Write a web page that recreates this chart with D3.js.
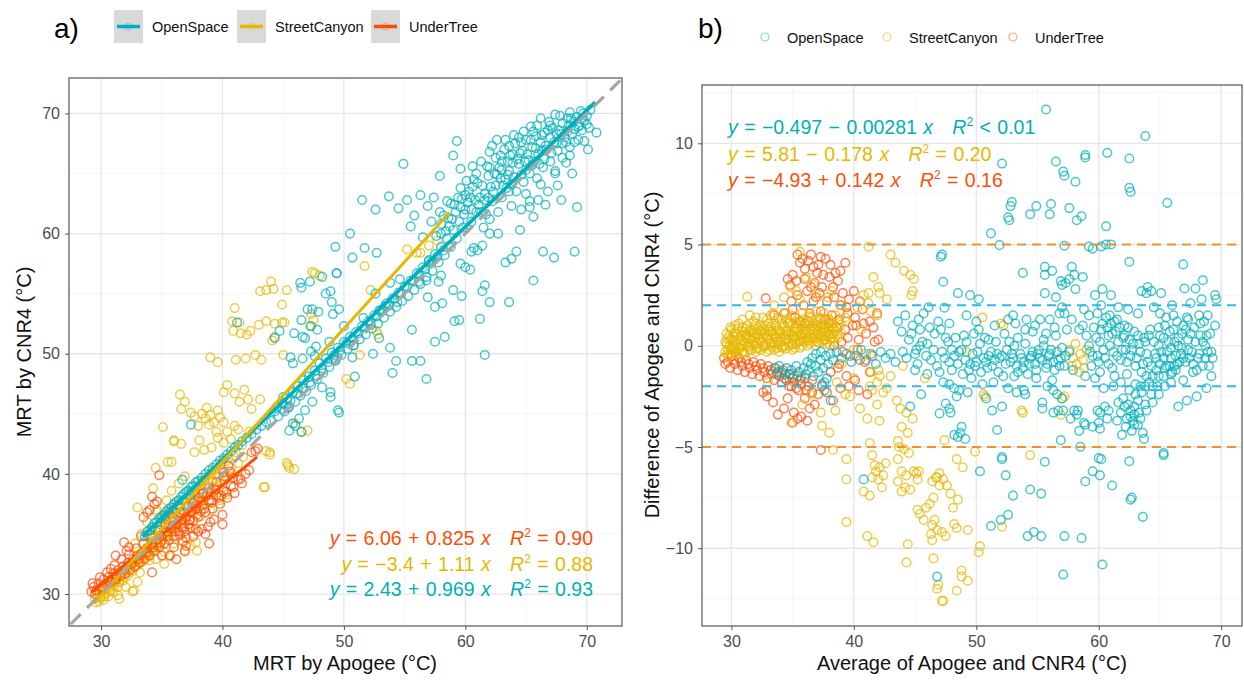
<!DOCTYPE html>
<html>
<head>
<meta charset="utf-8">
<script src="https://cdn.jsdelivr.net/npm/d3@7"></script>
<style>
body { margin: 0; background: #fff; }
text { font-family: "Liberation Sans", Arial, sans-serif; }
</style>
</head>
<body>
<div id="chart"></div>
<script>
// series names and colours
var groups = ["OpenSpace", "StreetCanyon", "UnderTree"];
var colors = ["#00AFBB", "#E7B800", "#FC4E07"];

// panel a tick values
var ticksA = [30, 40, 50, 60, 70];
// panel b tick values
var ticksBx = [30, 40, 50, 60, 70];
var ticksBy = [-10, -5, 0, 5, 10];

// panel a: [MRT by Apogee, MRT by CNR4]
var openA = [[33.6,34.8],[33.8,35.2],[34.0,35.3],[34.2,35.6],[34.4,35.9],[34.6,36.0],[34.8,36.3],[35.0,36.5],[35.2,36.6],[35.4,36.9],[35.6,37.1],[35.8,37.2],[36.0,37.5],[36.2,37.7],[36.4,37.8],[36.6,38.1],[36.8,38.3],[37.0,38.5],[37.2,38.6],[37.4,38.9],[37.6,39.0],[37.8,39.3],[38.0,39.4],[38.3,39.7],[38.6,40.0],[38.9,40.3],[39.2,40.5],[39.5,40.8],[39.8,41.1],[40.1,41.3],[40.4,41.6],[40.7,41.9],[41.0,42.2],[41.3,42.4],[41.6,42.7],[42.0,43.0],[42.4,43.3],[42.8,43.7],[43.2,44.0],[43.6,44.3],
  [34.1,34.9],[34.9,35.8],[35.7,36.6],[36.5,37.3],[37.3,38.2],
  [44.0,44.4],[44.3,45.2],[44.6,44.8],[44.9,45.9],[45.1,45.2],[45.3,46.3],[45.5,45.6],[45.8,46.8],[46.0,46.0],[46.2,47.3],[46.4,46.5],[46.7,47.8],[46.9,46.9],[47.1,48.1],[47.3,47.4],[47.6,48.6],[47.8,47.9],[48.0,49.2],[48.3,48.4],[48.5,49.6],[48.8,48.9],[49.0,50.1],[49.3,49.4],[49.5,50.5],[49.8,49.9],[50.0,51.0],[50.3,50.4],[50.5,51.4],[50.8,50.7],[51.0,51.8],[51.3,51.2],[51.5,52.3],[51.8,51.6],[52.0,52.7],[52.3,52.1],[52.5,53.2],[52.8,52.5],[53.0,53.6],[53.3,53.0],[53.5,54.2],[53.8,53.5],[54.0,54.6],[54.3,53.9],[54.5,55.1],[54.8,54.4],[55.0,55.6],[55.3,54.8],[55.5,56.1],[55.8,55.3],[56.0,56.7],[56.3,55.8],[56.5,57.2],[56.8,56.4],[57.0,57.7],[57.3,56.9],[57.5,58.3],[57.8,57.6],[58.0,58.9],[58.3,58.2],[58.5,59.6],[58.8,58.9],[59.0,60.3],[59.3,59.6],[59.5,61.0],
  [44.5,45.6],[45.0,45.8],[45.6,46.1],[46.1,46.7],[46.6,47.1],[47.2,47.6],[47.7,48.2],[48.2,48.8],[48.7,49.3],[49.2,49.9],[49.7,50.3],[50.2,50.9],[50.7,51.3],[51.2,51.7],[51.7,52.2],[52.2,52.7],[52.7,53.1],[53.2,53.7],[53.7,54.0],[54.2,54.6],[54.7,55.0],[55.2,55.6],[55.7,56.1],[56.2,56.6],[56.7,57.0],[57.2,57.6],[57.7,58.1],[58.2,58.6],
  [48.2,47.2],[48.9,46.4],[49.5,45.3],[47.4,46.0],[46.3,44.6],[45.5,43.6],[45.8,44.2],[46.8,45.3],
  [58.2,61.5],[58.8,62.5],[59.4,63.0],[60.0,62.0],[60.3,63.5],[60.8,62.8],[61.0,64.2],[61.3,61.8],[61.6,63.3],[61.9,64.8],[62.2,62.7],[62.5,64.0],[62.8,65.5],[60.5,61.0],[59.8,60.5],[61.5,60.5],[62.0,61.2],[62.7,61.8],[63.0,63.0],[63.3,64.5],[63.5,66.0],[60.9,65.0],[60.1,64.4],[59.6,63.8],
  [62.0,65.5],[62.5,66.3],[63.0,66.0],[63.2,67.0],[63.6,65.2],[63.9,66.6],[64.1,67.5],[64.4,65.8],[64.7,66.9],[65.0,67.8],[65.2,66.1],[65.5,67.2],[65.8,68.1],[66.0,66.6],[66.2,67.6],[66.5,68.4],[66.7,67.0],[67.0,68.0],[67.2,68.8],[67.5,67.5],[67.7,68.6],[68.0,69.2],[68.2,68.0],[68.5,69.0],[68.7,69.6],[69.0,68.7],[69.2,69.7],[69.5,70.2],[69.8,69.4],[67.8,69.8],[68.6,70.1],[66.9,69.3],[65.9,69.0],[64.8,68.5],[64.0,68.2],[63.3,67.8],[62.2,67.3],
  [60.2,62.6],[60.6,63.9],[61.2,63.0],[61.8,65.6],[62.3,63.5],[62.9,64.6],[63.4,63.8],[63.7,66.5],[64.3,66.2],[64.6,67.6],[65.1,66.6],[65.6,68.5],[65.7,66.0],[66.3,66.9],[66.8,68.6],[67.3,67.6],[67.9,68.3],[68.4,68.5],[68.9,69.3],[69.4,69.0],[69.7,70.0],[70.0,69.8],[70.3,70.3],[69.6,68.6],[68.3,67.6],[67.1,66.7],[66.1,65.8],[65.0,65.3],[64.0,64.7],[63.1,64.0],[61.1,62.4],[62.4,65.0],[60.4,63.0],[59.9,61.6],[59.2,61.8],[58.7,60.6],[58.4,60.2],[59.1,62.4],[61.7,61.6],[63.6,63.5],[65.0,63.3],[66.2,64.1],[67.4,65.0],[68.3,65.9],[69.8,67.7],[70.2,68.8],[66.6,62.4],[65.6,61.4],[67.9,62.8],
  [60.0,63.2],[60.7,64.5],[61.4,64.0],[61.9,63.0],[62.6,64.9],[63.0,65.3],[63.5,64.9],[63.9,65.9],[64.5,66.7],[64.9,66.0],[65.4,67.8],[65.8,67.1],[66.3,68.2],[66.6,67.3],[67.0,69.0],[67.5,68.3],[68.0,67.5],[68.4,69.6],[68.8,68.3],[69.3,68.9],[69.6,69.5],[70.0,69.1],[63.8,64.1],[64.6,64.9],[65.5,65.7],[66.5,66.2],[67.6,66.9],[68.6,66.5],[69.0,67.6],[62.1,63.9],[61.6,62.8],[60.9,61.8],[58.9,61.2],[59.7,62.9],[60.5,62.0],[58.0,60.8],[57.6,59.8],[58.6,61.3],[62.9,66.5],[63.6,67.3],[64.4,68.0],[65.4,68.9],[66.2,69.6],[67.4,69.9],[61.3,66.0],[62.0,66.8],[60.6,65.6],
  [64.2,63.5],[64.8,64.3],[65.3,65.0],[65.9,64.6],[66.4,65.5],[67.0,66.0],[67.4,65.2],[68.0,66.3],[68.6,67.2],[69.3,67.8],[66.0,62.8],[66.8,63.5],[67.6,64.0],[64.6,62.0],[65.3,62.7],[63.8,62.3],[68.8,65.0],
  [70.8,68.4],[70.1,67.0],[69.2,62.2],[69.0,58.5],[67.3,58.0],[66.4,58.5],[65.6,56.1],[63.6,54.3],[61.6,49.9],[61.2,52.9],[59.3,67.7],[62.6,67.8],[59.0,66.5],[54.9,65.8],[57.9,64.8],[59.6,65.4],[51.5,62.8],[52.6,62.0],[53.7,63.1],[54.5,62.1],[50.5,60.0],[49.3,58.9],[51.7,58.8],[52.7,58.4],[50.7,58.0],[49.4,56.7],[48.9,55.2],[49.0,54.3],[49.6,53.7],[47.4,53.7],[47.3,52.3],[46.8,51.3],[57.5,51.0],[58.3,51.4],[55.6,52.0],[59.1,52.7],[59.5,52.8],[54.3,49.4],[55.6,49.4],[56.3,49.4],[54.0,48.4],[56.8,47.9],[58.1,54.2],[57.5,53.9],[56.9,54.7],[59.7,54.8],[61.4,55.2],[61.6,55.7],[62.0,54.3],[63.3,57.6],[64.2,58.5],[63.8,57.9],[64.5,60.3],[65.3,62.2],[62.0,60.0],[62.7,60.0],[60.5,58.5],[61.4,59.0],[61.0,58.6],[60.7,58.8],[59.6,57.5],[60.0,57.2],[60.4,57.0],[58.0,56.5],[57.8,56.0],[59.0,55.3],[56.2,56.0],[56.8,56.1],[57.0,57.8],[54.6,56.2],[53.8,55.9],[52.6,55.0],[53.4,54.0],[52.9,53.6],[54.4,54.3],[51.6,53.0],[52.2,52.4],[50.0,52.3],[50.8,50.7],[49.3,49.5],[48.8,51.0],[52.9,51.3],[53.8,50.5],[52.4,50.0],[56.3,63.2],[57.4,63.0],[58.5,62.7],[59.6,62.2],[55.5,60.6],[56.5,59.7],[55.8,61.5],[57.2,61.0],[58.0,60.0],[56.9,62.3],[55.2,62.8],[57.9,61.8],
  [36.7,39.5],[37.4,44.1],[41.2,52.6],[44.3,51.3],[46.5,55.5],[47.2,56.0],[47.0,53.7],[46.5,52.8],[47.8,52.0],[46.6,51.4],[47.6,49.8],[45.6,49.7],[46.4,55.9],[48.2,56.4],[49.4,56.7],[48.5,55.0],[49.1,53.3],[47.9,53.5],[45.9,51.7],[47.7,50.6],[44.7,51.9],[45.8,49.2],[46.6,49.6],[47.3,50.2],[45.0,46.4],[45.4,45.5],[46.0,44.0],[46.5,43.5],[50.9,48.1],[50.7,49.7],[49.6,45.1],[48.9,46.8]];

var streetA = [[29.5,29.6],[29.7,30.0],[29.9,29.8],[30.1,30.3],[30.3,30.0],[30.5,30.6],[30.7,30.3],[30.9,31.0],[31.1,30.7],[31.3,31.3],[31.5,31.0],[31.7,31.7],[31.9,31.4],[32.1,32.1],[32.3,31.8],[32.5,32.5],[32.7,32.2],[32.9,33.0],[33.1,32.6],[33.3,33.4],[33.5,33.0],[33.7,33.8],[33.9,33.4],[34.1,34.3],[34.3,33.8],[34.5,34.8],[34.7,34.2],[34.9,35.3],[35.1,34.6],[35.3,35.8],[35.5,35.0],[35.7,36.3],[35.9,35.4],[36.1,36.8],[36.3,35.8],[36.5,37.2],[36.7,36.2],[36.9,37.7],[37.1,36.6],[37.3,38.1],[37.5,37.0],[37.7,38.6],[37.9,37.4],[38.1,39.0],[38.3,37.8],[38.5,39.5],[38.7,38.2],[38.9,39.9],[39.1,38.6],[39.3,40.3],[39.6,39.0],[39.9,40.8],[40.2,39.5],[40.5,41.3],[40.8,40.0],[41.1,41.8],
  [29.6,29.3],[30.0,29.7],[30.4,30.4],[30.8,30.6],[31.2,31.0],[31.6,31.4],[32.0,31.9],[32.4,32.3],[32.8,32.7],[33.2,33.2],[33.6,33.5],[34.0,33.9],[34.4,34.4],[34.8,34.7],[35.2,35.1],[35.6,35.5],[36.0,36.0],[36.4,36.3],[36.8,36.8],[37.2,37.2],[37.6,37.7],[38.0,38.1],[38.4,38.5],[38.8,39.0],[39.2,39.4],[39.6,39.8],[40.0,40.2],[31.5,29.6],[33.0,31.0],[34.5,32.9],[39.5,43.5],[38.1,42.8],[39.8,44.7],
  [29.8,29.4],[30.3,29.8],[30.7,30.2],[31.0,30.9],[31.4,30.6],[31.8,31.1],[32.2,31.5],[32.6,31.9],[33.0,32.4],[33.4,32.7],[33.8,33.2],[34.2,33.6],[34.6,34.0],[35.0,34.4],[35.4,34.9],[35.8,35.2],[36.2,35.6],[36.6,36.0],[37.0,36.4],[37.4,36.9],[37.8,37.3],[38.2,37.7],[38.6,38.1],[39.0,38.4],[39.4,38.9],[39.8,39.3],[40.3,39.8],[40.7,40.5],[41.3,40.9],[41.7,41.4],[34.2,35.5],[35.0,36.2],[35.9,37.0],[36.7,37.8],[37.5,38.6],[38.3,39.4],[39.1,40.0],[40.0,41.0],[40.9,41.5],
  [30.2,29.5],[30.6,29.8],[31.0,30.2],[32.6,30.2],[31.4,29.9],[32.0,30.6],[33.2,31.8],[34.0,32.8],[35.2,33.5],[36.0,34.2],[35.6,33.2],[36.8,34.4],[37.5,35.5],[38.2,36.5],[37.9,33.6],[39.0,37.0],[39.8,37.8],[40.4,38.3],[33.8,36.0],[34.6,37.0],[35.4,37.8],[33.3,35.0],[32.8,34.2],[35.8,38.6],[36.4,39.2],[36.9,39.8],
  [43.1,55.2],[43.6,55.3],[44.2,55.4],[44.0,56.0],[45.3,55.3],[51.7,57.3],[44.9,54.1],[41.0,53.8],[40.8,52.7],[41.4,52.6],[43.0,52.4],[43.6,52.7],[44.3,52.5],[45.1,52.6],[41.5,51.7],[42.0,51.6],[42.3,51.9],[40.9,51.9],[39.0,49.7],[39.6,49.3],[41.1,49.5],[41.9,49.6],[42.7,49.9],[43.2,49.5],[44.1,51.1],[44.3,51.4],[45.0,49.9],[40.1,46.8],[40.4,47.4],[41.0,46.7],[41.8,47.0],[42.1,46.2],[41.4,46.0],[42.4,45.4],[43.1,46.2],[38.7,45.5],[39.0,44.9],[39.3,44.3],[38.6,44.6],[39.6,45.3],[38.3,45.0],[36.9,46.0],[37.4,45.1],[36.6,45.4],[37.7,44.8],[35.1,43.9],[36.0,42.8],[36.6,42.5],[35.5,41.0],[37.7,41.8],[38.5,42.0],[39.1,42.2],[40.1,44.3],[40.4,43.5],[40.7,42.9],[41.0,44.0],[41.3,43.7],[40.1,42.6],[39.6,43.0],[41.6,42.4],[42.2,43.5],[43.9,41.8],[43.4,38.9],[45.9,40.4],[47.0,43.6],[46.5,43.5],[46.0,44.2],[47.2,52.3],[47.5,52.8],[44.9,52.6],[48.0,56.5],[47.4,56.8],[52.7,51.9],[50.5,47.5],[50.2,47.9],[43.5,38.9],[45.3,40.9],[45.4,40.7],[43.6,41.9],[43.9,41.6],[47.6,56.7],[52.2,55.3],[55.2,58.7],[56.0,58.4],[56.3,58.4],[57.0,59.0],[57.7,59.4],[58.6,58.9],[47.3,53.3],[52.8,51.6],[51.3,49.9],[34.6,36.8],[32.7,30.3],[35.2,32.5],[36.9,33.5],[37.4,34.0],[37.8,34.3],[45.5,40.5],[34.5,40.5],[33.0,37.2],[34.3,38.8],[36.5,46.6],[35.8,41.0],[36.0,42.7],[38.0,44.0],[38.9,44.1]];

var underA = [[29.2,30.2],[29.4,30.6],[29.6,30.3],[29.8,30.9],[30.0,30.5],[30.2,31.2],[30.4,30.8],[30.6,31.4],[30.8,31.0],[31.0,31.7],[31.2,31.2],[31.4,32.0],[31.6,31.5],[31.8,32.3],[32.0,31.7],[32.2,32.6],[32.4,32.0],[32.6,32.9],[32.8,32.3],[33.0,33.2],[33.2,32.6],[33.4,33.5],[33.6,32.9],[33.8,33.8],[34.0,33.2],[34.2,34.1],[34.4,33.6],[34.6,34.5],[34.8,33.9],[35.0,34.8],[35.2,34.2],[35.4,35.2],[35.6,34.5],[35.8,35.5],[36.0,34.8],[36.2,35.8],[36.4,35.2],[36.6,36.1],[36.8,35.5],[37.0,36.4],[37.2,35.8],[37.4,36.8],[37.6,36.1],[37.8,37.1],[38.0,36.4],[38.3,37.4],[38.6,36.8],[38.9,37.8],[39.2,37.1],[39.5,38.2],[39.8,37.5],[40.1,38.6],[40.4,38.0],[40.7,39.0],[41.0,38.4],[41.3,39.5],[41.6,39.2],[41.9,40.0],[42.2,40.3],
  [29.3,30.9],[29.9,31.4],[30.5,31.8],[31.1,32.4],[31.7,32.9],[32.3,33.3],[32.9,33.8],[33.5,34.2],[34.1,34.7],[34.7,35.3],[35.3,35.8],[35.9,36.4],[36.5,36.8],[37.1,37.3],[37.7,37.8],[38.3,38.3],[38.9,38.8],[39.5,39.3],[40.1,39.8],[35.0,33.2],[36.0,33.9],[37.0,34.7],[38.0,35.2],[39.0,36.0],
  [29.5,30.0],[30.1,30.6],[30.7,31.1],[31.3,31.5],[31.9,32.0],[32.5,32.5],[33.1,32.9],[33.7,33.4],[34.3,33.9],[34.9,34.3],[35.5,34.8],[36.1,35.2],[36.7,35.6],[37.3,36.1],[37.9,36.6],[38.5,37.1],[39.1,37.6],[39.7,38.0],[40.3,38.5],[40.9,38.9],[41.5,39.6],[35.6,36.8],[36.3,37.4],[37.5,37.6],[38.1,38.0],
  [34.2,31.8],[31.9,34.3],[32.1,33.6],[34.8,39.9],[34.2,38.1],[34.6,37.7],[34.4,37.5],[33.5,36.4],[33.8,36.8],[34.0,37.0],[36.9,33.6],[36.7,34.4],[37.0,34.0],[38.6,35.0],[38.8,35.6],[38.3,35.4],[39.3,36.2],[40.0,35.8],[40.0,36.6],[39.1,37.8],[39.9,38.2],[39.4,38.7],[38.4,38.4],[38.2,36.9],[42.7,41.9],[42.9,42.1],[42.4,41.8],[40.9,39.7],[40.1,40.1],[40.6,40.2],[40.5,40.7],[37.3,36.2],[36.9,35.2],[36.5,34.9],[37.8,35.4],[37.6,34.8],[35.9,35.7],[36.4,36.4],[35.3,36.3],[37.3,35.5],[32.3,33.9],[31.2,33.2],[30.8,32.1],[33.3,34.8],[35.7,33.2],[36.2,32.9],[38.9,34.2]];

// panel b: [average, difference]
var openB = [[33.5,-1.1],[33.7,-1.4],[33.9,-1.0],[34.1,-1.3],[34.3,-1.6],[34.5,-1.1],[34.7,-1.4],[34.9,-1.2],[35.1,-1.5],[35.3,-1.0],[35.5,-1.3],[35.7,-1.6],[35.9,-1.1],[36.1,-1.4],[36.3,-1.2],[36.5,-0.9],[36.7,-1.5],[36.9,-1.0],[37.1,-1.3],[37.3,-0.7],[37.5,-1.1],[37.6,-1.8],[37.7,-0.5],[37.9,-0.9],[38.1,-0.4],[38.3,-0.7],[36.6,-0.6],[36.9,-0.4],[37.3,-0.3],[36.2,-0.8],[37.6,-2.2],[37.4,-1.9],[37.8,-1.6],
  [38.6,-0.3],[39.0,-0.6],[39.4,-0.4],[39.8,-0.8],[40.2,-0.5],[40.6,-0.2],[41.0,-0.7],[41.4,-0.4],[41.8,-0.9],[42.2,-0.3],[42.6,-0.6],[43.0,-0.4],[43.4,-0.8],[38.1,-2.7],[40.8,-6.6],[44.6,-3.0],[45.0,-1.2],[46.8,-11.4],
  [43.6,1.2],[43.9,0.7],[44.2,1.5],[44.5,0.3],[44.8,1.0],[45.1,-0.2],[45.4,0.8],[45.7,1.6],[46.0,0.1],[46.3,-0.7],[46.6,0.6],[46.9,1.2],[47.2,-0.3],[45.2,-0.9],[44.0,-0.3],[46.1,1.9],[47.5,0.4],[47.8,-0.8],
  [48.2,-0.5],[48.5,-0.9],[48.8,-0.2],[49.1,-0.7],[49.4,-1.2],[49.7,-0.4],[50.0,-0.8],[50.3,0.1],[50.6,-0.6],[50.9,-1.1],[51.2,-0.3],[51.5,-0.7],[51.8,-1.3],[52.1,-0.5],[52.4,-0.9],[52.7,0.2],[53.0,-0.6],[53.3,-1.0],[53.6,-0.4],[53.9,-0.8],[54.2,-1.4],[54.5,-0.5],[54.8,-0.9],[55.1,-0.2],[55.4,-0.7],[55.7,-1.1],[56.0,-0.4],[56.3,-0.8],[56.6,-0.3],[56.9,-0.6],[57.2,-1.0],[49.0,0.5],[50.2,0.8],[51.0,0.3],[52.3,0.6],[53.4,0.4],[54.6,0.7],[55.5,0.3],[56.5,0.5],[49.6,-1.6],[51.4,-1.8],[53.1,-1.5],[54.9,-1.6],[56.2,-1.7],[57.6,-0.3],[57.9,-1.2],[50.5,-1.9],[52.6,-2.1],[55.8,-2.0],
  [44.3,-0.6],[44.7,0.6],[45.0,-0.4],[45.3,1.3],[45.6,0.2],[45.9,-0.5],[46.2,0.9],[46.5,-0.2],[46.8,-1.0],[47.1,0.8],[47.4,-0.6],[47.7,0.2],[48.0,-1.2],[48.3,0.4],[48.6,-0.3],[48.9,-1.4],[49.2,0.2],[49.5,-0.9],[49.8,0.6],[50.1,-0.3],[50.4,-1.3],[50.7,0.4],[51.0,-0.5],[51.3,-1.0],[51.6,0.2],[51.9,-0.6],[52.2,-1.5],[52.5,-0.2],[52.8,-0.8],[53.1,0.0],[53.4,-1.3],[53.7,-0.6],[54.0,0.1],[54.3,-0.9],[54.6,-0.3],[54.9,-1.2],[55.2,-0.6],[55.5,0.0],[55.8,-0.9],[56.1,-0.2],[56.4,-1.2],[56.7,-0.7],[57.0,-0.1],[57.3,-0.5],[49.9,-1.0],[50.8,-0.8],[51.7,-0.4],[52.9,-0.4],[53.8,-1.1],[54.4,-0.6],[55.0,-0.4],[55.9,-0.5],[56.8,-1.0],[48.0,-0.2],[47.0,-1.3],[46.0,-1.4],[45.4,0.0],[50.0,1.2],[51.5,1.0],[53.0,1.5],[54.0,0.8],[55.2,1.3],[56.8,1.6],[49.2,1.5],[47.8,1.1],
  [59.2,0.0],[59.5,-0.5],[59.8,0.4],[60.0,-0.8],[60.2,0.8],[60.4,-0.2],[60.6,1.4],[60.8,0.5],[61.0,1.1],[61.2,-0.3],[61.4,0.7],[61.6,0.2],[61.8,-0.7],[62.0,0.4],[62.2,-0.2],[62.4,0.9],[62.6,-0.5],[62.8,0.1],[63.0,-1.0],[63.2,0.5],[63.4,-0.3],[63.6,-0.9],[60.9,1.5],[61.5,1.3],[62.1,1.0],[60.1,-1.3],[59.4,-1.0],[61.1,-1.1],[62.3,-1.4],
  [59.0,0.5],[59.3,-0.3],[59.6,0.9],[59.9,-0.5],[60.1,0.2],[60.3,1.1],[60.5,-0.6],[60.7,0.9],[60.9,0.0],[61.1,0.6],[61.3,1.2],[61.5,-0.5],[61.7,0.9],[61.9,-0.2],[62.1,0.5],[62.3,-0.8],[62.5,0.3],[62.7,-0.2],[62.9,0.7],[63.1,-0.6],[63.3,0.1],[63.5,-1.3],[63.7,0.4],[63.9,-0.4],[64.1,0.5],[64.3,-1.0],[64.5,0.2],[64.7,-0.6],[64.9,0.9],[65.1,-0.3],[65.3,0.4],[65.5,-1.0],[65.7,0.2],[65.9,-0.6],[66.1,0.8],[66.3,-1.2],[66.5,0.0],[66.7,-0.4],[66.9,1.0],[67.1,-0.8],[67.3,-0.2],[67.5,0.6],[67.7,-1.3],[67.9,0.2],[68.1,-0.6],[68.3,0.5],[68.5,-1.0],[68.7,0.0],[68.9,-0.3],[69.1,0.6],[69.3,-0.6],[61.3,-1.5],[61.8,-1.8],[62.5,-2.2],[63.0,-2.4],[63.4,-2.0],[63.9,-1.5],[64.4,-2.0],[64.9,-1.5],[65.4,-1.1],[65.9,-1.4],[66.4,-0.9],[66.9,-0.6],[67.4,-0.6],[62.0,-2.6],[62.4,-2.9],[62.9,-3.4],[63.4,-3.6],[63.9,-3.2],[64.4,-2.8],[64.9,-2.4],[65.4,-2.0],[65.9,-1.8],[66.2,-1.0],[61.8,-3.3],[62.2,-4.0],[62.7,-4.2],[63.2,-3.9],[61.5,-3.7],[61.9,-4.4],[60.8,-0.9],[59.7,-1.6],[60.4,-2.1],[58.9,-1.5],[58.4,0.8],[58.7,1.0],[66.0,2.0],[67.5,2.1],[68.4,2.3],[64.5,1.9],[63.2,1.6],[62.4,1.8],[61.6,1.9],[60.2,2.0],
  [62.3,-3.6],[62.6,-3.2],[62.9,-3.0],[63.2,-2.7],[63.5,-2.3],[63.8,-2.0],[64.1,-1.8],[64.4,-1.5],[64.7,-1.2],[65.0,-0.9],[65.3,-0.6],[65.6,-0.3],[65.9,-0.1],[66.2,0.2],[66.5,0.4],[66.8,0.6],[67.1,0.8],[62.8,-3.7],[63.3,-3.3],[63.8,-2.9],[64.3,-2.4],[64.8,-2.0],[65.3,-1.5],[65.8,-1.0],[66.3,-0.5],[66.8,-0.1],[67.3,0.3],[67.7,-0.9],[68.0,-1.2],[68.2,-0.4],[68.5,0.2],
  [63.8,0.2],[64.2,0.8],[64.6,-0.4],[65.0,0.5],[65.4,1.0],[65.8,0.7],[66.0,-1.3],[66.4,1.2],[66.9,-1.7],[67.3,1.3],[67.8,0.9],[68.3,1.1],[68.8,0.5],[69.2,-0.3],[69.0,-1.0],[64.0,-0.8],[64.9,0.0],[66.6,-0.8],[67.6,-0.3],[68.7,-0.6],
  [55.7,11.67],[63.8,10.36],[52.1,9.0],[56.5,9.1],[58.9,9.42],[58.9,9.3],[60.7,9.53],[62.5,9.25],[57.1,8.6],[57.2,8.4],[58.1,8.1],[62.5,7.8],[62.6,7.6],[65.6,7.06],[52.9,7.1],[52.8,6.9],[52.6,6.34],[52.7,6.2],[54.4,6.5],[54.9,6.9],[56.1,7.0],[56.0,6.5],[57.6,6.8],[58.2,6.2],[58.6,6.4],[60.6,5.9],[51.2,5.55],[51.9,4.97],[57.2,4.94],[59.2,4.9],[59.5,4.8],[60.2,4.9],[60.6,5.0],[61.0,5.0],[47.2,4.5],[47.1,4.4],[62.5,4.15],[66.9,4.02],[55.6,3.9],[56.2,3.7],[55.6,3.5],[53.8,3.6],[57.8,3.9],[58.0,3.5],[57.6,3.3],[58.7,3.4],[57.0,3.0],[57.3,3.1],[56.9,3.2],[47.3,3.16],[68.5,3.24],[67.0,2.83],[67.9,2.83],[64.0,2.9],[64.3,2.7],[65.1,2.6],[63.5,2.7],[63.9,2.6],[69.5,2.5],[69.6,2.3],[48.5,2.6],[49.5,2.5],[50.2,2.3],[55.6,2.6],[56.5,2.4],[58.1,2.8],[59.7,2.5],[60.3,2.8],[61.0,2.5],[47.4,1.88],[57.0,1.9],[57.2,1.6],[57.8,1.3],[58.8,1.8],[59.2,1.5],[59.9,1.6],[52.6,1.3],[53.2,1.1],[54.1,1.3],[54.8,1.0],[56.0,1.3],[56.4,0.9],[55.7,0.6],[57.4,0.8],[65.0,1.6],[65.5,1.4],[66.1,1.5],[67.2,1.4],[68.2,1.5],[68.9,1.5],[69.5,1.0],[68.6,1.2],
  [47.0,-3.34],[47.9,-3.3],[47.8,-3.1],[47.5,-2.85],[48.8,-4.0],[48.7,-4.3],[49.1,-4.6],[48.2,-4.4],[48.5,-4.5],[51.7,-4.16],[52.1,-5.5],[52.1,-5.6],[50.3,-6.2],[52.4,-6.4],[53.0,-7.4],[54.4,-7.1],[55.3,-7.3],[52.6,-8.35],[51.2,-8.9],[52.0,-8.6],[54.2,-9.4],[54.7,-9.2],[55.3,-9.4],[57.2,-9.4],[58.6,-9.5],[57.1,-11.3],[60.3,-10.8],[55.6,-5.73],[56.9,-4.66],[58.3,-3.2],[58.2,-3.4],[57.7,-3.6],[58.4,-4.2],[58.5,-4.99],[59.5,-6.2],[58.9,-6.7],[60.0,-5.55],[60.2,-5.6],[60.1,-6.4],[61.1,-6.9],[62.5,-5.7],[62.7,-7.5],[62.6,-7.6],[63.6,-8.45],[65.3,-5.3],[65.3,-5.4],[60.0,-3.8],[60.1,-4.1],[60.7,-3.6],[60.8,-3.2],[60.1,-3.3],[59.9,-3.2],[60.5,-3.0],[61.6,-2.8],[62.1,-3.0],[62.6,-3.5],[62.9,-3.9],[63.6,-4.3],[63.7,-4.6],[66.5,-3.0],[67.2,-2.7],[68.0,-2.5],[68.8,-2.1],[69.2,-1.5],[56.3,-3.3],[56.7,-3.2],[57.1,-3.2],[58.0,-3.2],[58.8,-3.8],[59.5,-4.0],[58.9,-3.9],[54.0,-2.4],[53.3,-2.3],[53.9,-2.2],[55.4,-2.8],[55.4,-3.1],[56.6,-2.4],[57.0,-2.6],[56.3,-2.2],[52.1,-3.0],[51.3,-3.2],[48.6,-2.2],[49.3,-2.3],[48.2,-2.1],[48.4,-2.5],[47.3,-1.8],[47.8,-1.9],[45.5,-2.4],[50.8,-2.6],[61.2,-2.0],[63.0,-1.9]];

var streetB = [[29.5,-0.3],[29.5,0.2],[29.8,-0.5],[29.8,0.0],[29.8,0.5],[30.1,-0.2],[30.1,0.3],[30.4,-0.4],[30.4,0.1],[30.4,0.6],[30.7,-0.1],[30.7,0.4],[31.0,-0.3],[31.0,0.2],[31.0,0.7],[31.3,0.0],[31.3,0.5],[31.6,-0.2],[31.6,0.3],[31.6,0.8],[31.9,0.1],[31.9,0.6],[32.2,-0.1],[32.2,0.4],[32.2,0.9],[32.5,0.2],[32.5,0.7],[32.8,0.0],[32.8,0.5],[33.1,-0.2],[33.1,0.3],[33.1,0.8],[33.4,0.1],[33.4,0.6],[33.7,-0.1],[33.7,0.4],[33.7,0.9],[34.0,0.2],[34.0,0.7],[34.3,0.0],[34.3,0.5],[34.3,1.0],[34.6,0.3],[34.6,0.8],[34.9,0.1],[34.9,0.6],[35.2,-0.1],[35.2,0.4],[35.2,0.9],[35.5,0.2],[35.5,0.7],[35.5,1.2],[35.8,0.0],[35.8,0.5],[35.8,1.0],[36.1,0.3],[36.1,0.8],[36.4,0.1],[36.4,0.6],[36.4,1.1],[36.7,0.4],[36.7,0.9],[37.0,0.2],[37.0,0.7],[37.0,1.2],[37.3,0.5],[37.3,1.0],[37.6,0.3],[37.6,0.8],[37.9,0.6],[37.9,1.1],[38.2,0.4],[38.2,0.9],[38.5,0.7],[30.3,1.0],[30.9,1.3],[31.8,1.2],[32.6,1.4],[29.9,0.9],[33.2,1.5],[34.4,1.6],
  [29.6,0.1],[29.7,-0.2],[29.9,0.3],[30.0,-0.4],[30.2,0.6],[30.2,0.0],[30.3,-0.3],[30.5,0.3],[30.6,-0.1],[30.8,0.5],[30.9,0.0],[30.9,0.9],[31.1,-0.4],[31.2,0.4],[31.4,0.1],[31.5,-0.2],[31.5,0.7],[31.7,0.4],[31.8,0.0],[31.9,0.9],[32.0,-0.3],[32.1,0.6],[32.3,0.2],[32.4,-0.2],[32.4,1.0],[32.6,0.4],[32.7,0.0],[32.7,0.8],[32.9,-0.3],[33.0,0.5],[33.0,1.1],[33.2,0.1],[33.3,0.7],[33.5,-0.2],[33.5,0.4],[33.6,1.0],[33.8,0.2],[33.9,0.6],[33.9,-0.3],[34.1,0.4],[34.1,1.1],[34.2,-0.1],[34.4,0.3],[34.5,0.7],[34.5,1.3],[34.7,0.0],[34.7,0.5],[34.8,1.0],[35.0,0.3],[35.0,-0.2],[35.1,0.7],[35.3,0.1],[35.3,1.1],[35.4,0.5],[35.6,-0.1],[35.7,0.4],[35.7,0.9],[35.9,0.2],[35.9,1.3],[36.0,0.6],[36.2,0.0],[36.2,1.0],[36.3,0.4],[36.5,0.8],[36.5,1.4],[36.6,0.2],[36.8,0.6],[36.8,1.1],[36.9,0.0],[37.1,0.4],[37.1,0.9],[37.2,1.4],[37.4,0.2],[37.4,0.7],[37.5,1.2],[37.7,0.5],[37.7,1.0],[37.8,0.1],[38.0,0.8],[38.0,1.3],[38.1,0.3],[38.3,0.6],[38.3,1.1],[38.4,0.2],[38.6,0.9],[38.7,0.4],[38.8,1.2],[39.0,0.6],[29.6,0.6],[30.0,0.8],[30.6,1.1],[31.3,1.0],[32.0,1.1],[32.9,1.3],[33.8,1.4],[34.9,1.5],[35.8,1.6],[36.9,1.7],[37.6,1.6],[38.5,1.5],[39.3,1.4],
  [29.65,0.35],[29.95,-0.15],[30.25,0.45],[30.55,-0.25],[30.85,0.25],[31.15,0.55],[31.45,-0.05],[31.75,0.65],[32.05,0.15],[32.35,0.75],[32.65,-0.05],[32.95,0.35],[33.25,0.95],[33.55,0.15],[33.85,0.75],[34.15,-0.05],[34.45,0.55],[34.75,1.15],[35.05,0.45],[35.35,0.85],[35.65,0.25],[35.95,0.75],[36.25,1.25],[36.55,0.35],[36.85,0.85],[37.15,0.15],[37.45,1.05],[37.75,0.65],[38.05,0.05],[38.35,0.85],[38.65,0.55],[38.95,1.05],[29.65,-0.45],[30.25,-0.15],[30.85,-0.35],[31.45,0.35],[32.05,-0.15],[32.65,0.55],[33.25,-0.05],[33.85,0.05],[34.45,-0.15],[35.05,0.05],[35.65,0.55],[36.25,0.25],[36.85,0.45],[37.45,0.45],[38.05,0.55],[30.5,0.85],[31.2,0.85],[31.9,0.4],[32.8,1.0],[33.6,0.75],[34.6,1.1],[35.4,1.35],[36.3,1.45],[37.3,1.3],[38.2,1.2],
  [31.3,2.42],[35.6,4.64],[41.2,4.89],[43.0,4.5],[43.4,4.1],[44.1,3.7],[44.6,3.5],[44.9,3.3],[44.8,2.7],[44.7,2.5],[42.7,2.3],[42.1,2.6],[41.2,2.6],[41.2,2.1],[33.5,2.0],[34.3,2.4],[34.8,2.9],[35.3,2.7],[35.6,2.3],[37.0,2.4],[37.9,2.4],[38.2,2.7],[33.4,1.6],[34.1,1.3],[31.5,1.5],[32.0,1.4],[40.3,1.9],[40.8,2.5],[41.6,3.4],[42.0,2.9],[41.4,1.7],[41.9,1.5],[40.6,0.8],[41.0,-0.4],[41.4,-1.3],[41.5,-2.2],[39.4,1.2],[39.0,2.0],[36.1,3.4],[36.7,3.0],
  [37.4,-3.95],[37.3,-3.3],[34.9,-3.8],[38.3,-5.15],[39.4,-5.6],[39.4,-6.6],[39.4,-8.7],[39.7,-2.5],[40.5,-3.1],[41.1,-3.6],[41.9,-2.9],[42.1,-3.7],[41.3,-2.0],[40.8,-7.2],[41.3,-7.4],[41.1,-9.4],[41.6,-9.7],[41.3,-4.8],[41.5,-5.4],[41.7,-5.9],[41.8,-6.2],[42.0,-6.6],[42.4,-6.4],[42.1,-6.0],[42.3,-7.0],[41.5,-6.5],[42.6,-5.8],[41.9,-1.8],[42.1,-1.5],[42.4,-2.3],[42.0,-1.2],[42.7,-2.1],[43.5,-2.7],[43.8,-3.1],[44.3,-3.3],[43.9,-4.0],[44.8,-3.6],[44.4,-4.3],[43.6,-4.7],[43.7,-5.0],[44.1,-5.1],[44.5,-5.3],[43.6,-5.6],[43.9,-6.2],[44.3,-6.4],[43.6,-6.7],[44.2,-7.0],[43.9,-7.2],[44.6,-7.1],[44.9,-6.2],[45.1,-6.3],[45.2,-8.1],[44.4,-9.8],[44.3,-10.7],[46.8,-12.0],[47.2,-12.6],[46.2,-7.8],[45.9,-8.0],[45.4,-8.3],[45.7,-8.6],[46.3,-9.3],[46.4,-9.6],[46.6,-8.6],[46.7,-6.5],[46.4,-6.7],[45.3,-6.2],[45.2,-6.6],[47.4,-4.66],[48.4,-5.6],[48.9,-6.0],[47.0,-6.3],[47.3,-6.6],[47.0,-6.9],[47.6,-6.9],[46.8,-6.5],[46.5,-7.5],[47.9,-7.3],[48.5,-7.6],[48.1,-8.0],[46.4,-8.85],[47.2,-9.2],[47.5,-9.4],[46.8,-9.1],[48.2,-8.8],[48.4,-9.0],[49.3,-9.1],[50.3,-9.9],[50.2,-10.2],[46.5,-10.5],[48.8,-11.1],[49.3,-11.6],[48.4,-12.1],[48.8,-11.4],[46.9,-11.8],[47.3,-12.6],[52.1,-8.94],[49.9,-5.23],[54.4,-5.4],[53.7,-3.2],[53.8,-3.3],[56.9,-3.42],[57.0,-2.6],[57.2,-2.5],[50.6,-2.4],[50.7,-2.5],[57.6,-0.2],[57.9,-0.6],[58.2,-0.9],[58.5,-0.4],[58.8,-1.1],[57.8,-1.0],[58.4,-1.3],[58.1,0.1],[58.7,-0.7],[59.0,-0.2],[50.5,1.4],[52.0,1.1],[52.2,1.0],[38.6,-1.8],[39.3,-2.4],[40.0,-1.6],[39.0,-0.9],[40.0,-0.2],[38.5,-3.2],[38.0,-4.3],[36.5,-2.4],[33.0,-1.8],[35.8,-2.9],[45.8,-1.6],[49.2,-0.3],[44.0,-1.0],[43.0,-1.5]];

var underB = [[29.4,-0.6],[29.7,-0.8],[30.0,-0.5],[30.3,-0.9],[30.6,-0.6],[30.9,-1.0],[31.2,-0.7],[31.5,-1.1],[31.8,-0.8],[32.1,-1.2],[32.4,-0.9],[32.7,-1.3],[33.0,-1.0],[33.3,-1.4],[33.6,-1.1],[33.9,-1.5],[34.2,-1.2],[34.5,-1.7],[34.8,-1.4],[35.1,-1.8],[35.4,-1.5],[35.7,-1.9],[36.0,-1.6],[36.3,-2.0],[36.6,-1.7],
  [29.5,-0.9],[29.9,-1.1],[30.2,-0.7],[30.5,-1.2],[30.8,-0.8],[31.1,-1.3],[31.4,-0.9],[31.7,-1.4],[32.0,-1.0],[32.3,-1.5],[32.6,-1.1],[32.9,-1.6],[33.2,-1.2],[33.5,-1.7],[33.8,-1.3],[34.1,-1.8],[34.4,-1.4],[34.7,-2.0],[35.0,-1.6],[35.3,-2.1],[35.6,-1.7],[36.1,-2.2],
  [35.4,4.5],[35.8,4.3],[36.3,4.2],[36.7,3.9],[37.1,4.0],[35.6,4.1],[34.6,3.3],[35.0,3.5],[34.8,3.0],[35.3,3.2],[36.0,3.3],[36.8,3.1],[36.5,2.9],[37.2,2.6],[37.7,4.3],[38.1,4.0],[38.5,3.6],[37.5,3.5],[38.3,2.9],[32.8,2.34],[33.5,1.5],[34.3,1.6],[35.0,1.8],[35.6,1.2],[36.4,1.6],[37.3,1.7],[38.2,1.5],[38.8,1.3],[39.5,1.6],[40.1,1.4],[40.8,1.1],[41.3,1.2],[39.5,0.4],[40.4,0.3],[41.0,0.6],[41.7,0.2],[38.6,0.9],[39.3,0.8],[39.9,1.0],[38.0,1.1],[37.6,0.3],[38.4,0.0],[39.1,-0.3],[39.7,-0.5],[40.3,-0.2],[40.9,-0.8],[41.5,-0.5],[38.8,-0.9],[39.4,1.9],[40.7,1.8],[41.9,1.6],[36.7,2.2],[37.0,1.0],
  [34.9,2.2],[35.4,2.5],[35.9,2.0],[36.2,2.7],[36.9,2.4],[37.4,2.9],[37.8,2.2],[38.4,2.4],[38.7,3.2],[39.1,2.6],[39.6,2.3],[40.0,2.7],[40.5,2.2],[36.0,3.8],[37.0,3.6],[38.0,3.4],[38.9,3.7],[39.3,4.1],[36.5,4.5],[37.3,4.4],[35.2,1.4],[36.0,1.1],[37.7,1.3],[38.9,2.0],[40.2,1.0],[41.6,0.9],[42.0,0.3],[39.0,0.2],[40.5,-0.7],[41.3,-1.3],
  [32.9,-2.2],[32.9,-2.5],[35.1,-3.3],[35.7,-3.5],[36.2,-3.7],[35.4,-3.6],[34.9,-2.0],[35.5,-2.2],[36.6,-2.3],[36.0,-2.6],[37.1,-2.4],[37.8,-2.3],[38.3,-2.7],[38.9,-2.1],[37.4,-2.0],[37.3,-5.15],[38.7,-1.1],[39.4,-1.5],[40.1,-1.7],[38.1,-1.3],[32.6,-2.3],[33.4,-2.8],[34.3,-3.1],[35.0,-3.8],[33.8,-3.4],[36.4,-3.1],[34.6,-2.6],[39.6,-2.0],[40.4,-2.2],[41.1,-2.4],[36.8,-2.9]];

// fitted lines in panel a: intercept, slope, x range
var fitA = [
  { g: 0, a: 2.43, b: 0.969, x0: 33.4, x1: 70.7, w: 3.6 },
  { g: 2, a: 6.06, b: 0.825, x0: 29.2, x1: 42.85, w: 3 },
  { g: 1, a: -3.4, b: 1.11, x0: 29.4, x1: 58.7, w: 3 }
];
// equation labels
var eqA = [
  { g: 2, a: "6.06", op: "+", b: "0.825", r: "= 0.90" },
  { g: 1, a: "\u22123.4", op: "+", b: "1.11", r: "= 0.88" },
  { g: 0, a: "2.43", op: "+", b: "0.969", r: "= 0.93" }
];
var eqB = [
  { g: 0, a: "\u22120.497", op: "\u2212", b: "0.00281", r: "< 0.01" },
  { g: 1, a: "5.81", op: "\u2212", b: "0.178", r: "= 0.20" },
  { g: 2, a: "\u22124.93", op: "+", b: "0.142", r: "= 0.16" }
];
// limits of agreement lines in panel b
var limitsOuter = [-5, 5];
var limitsInner = [-2, 2];

var W = 1244, H = 680;
var svg = d3.select("#chart").append("svg")
    .attr("width", W).attr("height", H)
    .style("background", "#fff");

var xA = d3.scaleLinear().domain([27.36, 72.9]).range([69, 622]);
var yA = d3.scaleLinear().domain([27.34, 72.95]).range([626, 78]);
var xB = d3.scaleLinear().domain([27.6, 71.7]).range([702, 1242]);
var yB = d3.scaleLinear().domain([-13.84, 12.88]).range([626, 85]);

function grid(g, x, y, xt, yt, xm, ym) {
  var x0 = x.range()[0], x1 = x.range()[1], y0 = y.range()[0], y1 = y.range()[1];
  g.append("rect").attr("x", x0).attr("y", y1).attr("width", x1 - x0).attr("height", y0 - y1).attr("fill", "#fff");
  g.selectAll(".mx").data(xm).enter().append("line")
    .attr("x1", d => x(d)).attr("x2", d => x(d)).attr("y1", y0).attr("y2", y1)
    .attr("stroke", "#F2F2F2").attr("stroke-width", 0.8);
  g.selectAll(".my").data(ym).enter().append("line")
    .attr("y1", d => y(d)).attr("y2", d => y(d)).attr("x1", x0).attr("x2", x1)
    .attr("stroke", "#F2F2F2").attr("stroke-width", 0.8);
  g.selectAll(".gx").data(xt).enter().append("line")
    .attr("x1", d => x(d)).attr("x2", d => x(d)).attr("y1", y0).attr("y2", y1)
    .attr("stroke", "#E6E6E6").attr("stroke-width", 1.3);
  g.selectAll(".gy").data(yt).enter().append("line")
    .attr("y1", d => y(d)).attr("y2", d => y(d)).attr("x1", x0).attr("x2", x1)
    .attr("stroke", "#E6E6E6").attr("stroke-width", 1.3);
}

function axes(g, x, y, xt, yt) {
  var ax = g.append("g").attr("transform", "translate(0," + y.range()[0] + ")")
    .call(d3.axisBottom(x).tickValues(xt).tickSize(4).tickPadding(6));
  var ay = g.append("g").attr("transform", "translate(" + x.range()[0] + ",0)")
    .call(d3.axisLeft(y).tickValues(yt).tickSize(4).tickPadding(5).tickFormat(d3.format("d")));
  [ax, ay].forEach(function (a) {
    a.select(".domain").remove();
    a.selectAll("line").attr("stroke", "#555");
    a.selectAll("text").attr("fill", "#4D4D4D").style("font-size", "16px")
      .style("font-family", "'Liberation Sans', Arial, sans-serif");
  });
}

function border(g, x, y) {
  g.append("rect").attr("x", x.range()[0]).attr("y", y.range()[1])
    .attr("width", x.range()[1] - x.range()[0]).attr("height", y.range()[0] - y.range()[1])
    .attr("fill", "none").attr("stroke", "#555").attr("stroke-width", 1.2);
}

function points(g, data, x, y, color) {
  g.selectAll(null).data(data).enter().append("circle")
    .attr("cx", d => x(d[0])).attr("cy", d => y(d[1])).attr("r", 4.3)
    .attr("fill", "none").attr("stroke", color)
    .attr("stroke-opacity", 0.7).attr("stroke-width", 1.5);
}

function equation(t, e) {
  t.style("word-spacing", "1px");
  t.append("tspan").attr("font-style", "italic").text("y");
  t.append("tspan").text(" = " + e.a + " " + e.op + " " + e.b + " ");
  t.append("tspan").attr("font-style", "italic").text("x");
  t.append("tspan").text("\u00a0\u00a0\u00a0");
  t.append("tspan").attr("font-style", "italic").text("R");
  t.append("tspan").attr("dy", -8).attr("font-size", 12).text("2");
  t.append("tspan").attr("dy", 8).text(" " + e.r);
}

// ---------- panel a ----------
var pa = svg.append("g");
grid(pa, xA, yA, ticksA, ticksA, [35, 45, 55, 65], [35, 45, 55, 65]);
pa.append("defs").append("clipPath").attr("id", "clipA").append("rect")
  .attr("x", 69).attr("y", 78).attr("width", 553).attr("height", 548);
var pta = pa.append("g").attr("clip-path", "url(#clipA)");
points(pta, streetA, xA, yA, colors[1]);
points(pta, underA, xA, yA, colors[2]);
points(pta, openA, xA, yA, colors[0]);

fitA.forEach(function (f) {
  pta.append("line")
    .attr("x1", xA(f.x0)).attr("y1", yA(f.a + f.b * f.x0))
    .attr("x2", xA(f.x1)).attr("y2", yA(f.a + f.b * f.x1))
    .attr("stroke", colors[f.g]).attr("stroke-width", f.w);
});
// 1:1 line
pta.append("line")
  .attr("x1", xA(27.5)).attr("y1", yA(27.5)).attr("x2", xA(72.9)).attr("y2", yA(72.9))
  .attr("stroke", "#A6A6A6").attr("stroke-width", 3.2).attr("stroke-dasharray", "14,9");
border(pa, xA, yA);
axes(pa, xA, yA, ticksA, ticksA);

eqA.forEach(function (e, i) {
  var t = pa.append("text").attr("x", 593).attr("y", 545 + i * 25.5)
    .attr("text-anchor", "end").attr("fill", colors[e.g]).style("font-size", "19.5px");
  equation(t, e);
});

pa.append("text").attr("x", 345).attr("y", 670).attr("text-anchor", "middle")
  .style("font-size", "20px").attr("fill", "#111").text("MRT by Apogee (\u00b0C)");
pa.append("text").attr("transform", "translate(31,352) rotate(-90)").attr("text-anchor", "middle")
  .style("font-size", "20px").attr("fill", "#111").text("MRT by CNR4 (\u00b0C)");
pa.append("text").attr("x", 54).attr("y", 38).style("font-size", "28px").attr("fill", "#000").text("a)");

// legend a
var legA = [114, 237, 371];
groups.forEach(function (name, i) {
  var lg = pa.append("g").attr("transform", "translate(" + legA[i] + ",10)");
  lg.append("rect").attr("width", 29).attr("height", 33).attr("fill", "#D9D9D9");
  lg.append("line").attr("x1", 3).attr("x2", 26).attr("y1", 16.5).attr("y2", 16.5)
    .attr("stroke", colors[i]).attr("stroke-width", 3.5);
  lg.append("circle").attr("cx", 14.5).attr("cy", 16.5).attr("r", 3.5)
    .attr("fill", "none").attr("stroke", colors[i]).attr("stroke-opacity", 0.4);
  lg.append("text").attr("x", 38).attr("y", 22).style("font-size", "14.5px").attr("fill", "#111").text(name);
});

// ---------- panel b ----------
var pb = svg.append("g");
grid(pb, xB, yB, ticksBx, ticksBy, [35, 45, 55, 65], [-12.5, -7.5, -2.5, 2.5, 7.5, 12.5]);
pb.append("defs").append("clipPath").attr("id", "clipB").append("rect")
  .attr("x", 702).attr("y", 85).attr("width", 540).attr("height", 541);
var ptb = pb.append("g").attr("clip-path", "url(#clipB)");
points(ptb, underB, xB, yB, colors[2]);
points(ptb, streetB, xB, yB, colors[1]);
points(ptb, openB, xB, yB, colors[0]);

ptb.selectAll(".lo").data(limitsOuter).enter().append("line")
  .attr("x1", 702).attr("x2", 1242).attr("y1", d => yB(d)).attr("y2", d => yB(d))
  .attr("stroke", "#F0922A").attr("stroke-width", 2).attr("stroke-dasharray", "9,6");
ptb.selectAll(".li").data(limitsInner).enter().append("line")
  .attr("x1", 702).attr("x2", 1242).attr("y1", d => yB(d)).attr("y2", d => yB(d))
  .attr("stroke", "#2DB9EA").attr("stroke-width", 2).attr("stroke-dasharray", "9,6");
border(pb, xB, yB);
axes(pb, xB, yB, ticksBx, ticksBy);

eqB.forEach(function (e, i) {
  var t = pb.append("text").attr("x", 728).attr("y", 134 + i * 26.5)
    .attr("fill", colors[e.g]).style("font-size", "19.5px");
  equation(t, e);
});

pb.append("text").attr("x", 972).attr("y", 670).attr("text-anchor", "middle")
  .style("font-size", "20px").attr("fill", "#111").text("Average of Apogee and CNR4 (\u00b0C)");
pb.append("text").attr("transform", "translate(659,355) rotate(-90)").attr("text-anchor", "middle")
  .style("font-size", "20px").attr("fill", "#111").text("Difference of Apogee and CNR4 (\u00b0C)");
pb.append("text").attr("x", 698).attr("y", 38).style("font-size", "28px").attr("fill", "#000").text("b)");

// legend b
var legB = [765, 887, 1013];
groups.forEach(function (name, i) {
  var lg = pb.append("g").attr("transform", "translate(" + legB[i] + ",37)");
  lg.append("circle").attr("r", 4).attr("fill", "none").attr("stroke", colors[i])
    .attr("stroke-opacity", 0.5).attr("stroke-width", 1.2);
  lg.append("text").attr("x", 22).attr("y", 5.5).style("font-size", "14.5px").attr("fill", "#111").text(name);
});
</script>
</body>
</html>
